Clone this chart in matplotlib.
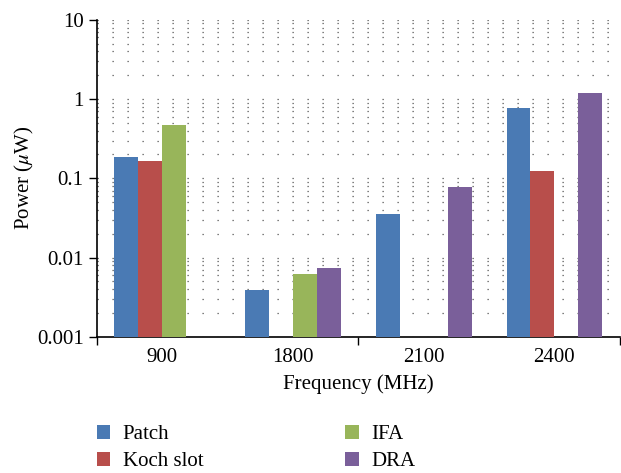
import numpy as np
import matplotlib as mpl
mpl.use('Agg')
import matplotlib.pyplot as plt
from matplotlib.ticker import FixedLocator, NullFormatter, FuncFormatter

frequencies = ["900", "1800", "2100", "2400"]
patch = [0.186, 0.0039, 0.035, 0.78]
koch_slot = [0.164, np.nan, np.nan, 0.122]
ifa = [0.465, 0.0062, np.nan, np.nan]
dra = [np.nan, 0.0074, 0.077, 1.2]

series = [("Patch", patch, "#4a7ab4"),
          ("Koch slot", koch_slot, "#b84e4b"),
          ("IFA", ifa, "#98b55a"),
          ("DRA", dra, "#7a5f9a")]

plt.rcParams['font.family'] = ['Liberation Serif', 'DejaVu Serif']
plt.rcParams['mathtext.fontset'] = 'stix'

fig = plt.figure(figsize=(6.21, 4.73), dpi=100)
ax = fig.add_axes([0.156, 0.288, 0.842, 0.670])

x = np.arange(len(frequencies))
w = 0.183
for i, (name, vals, col) in enumerate(series):
    ax.bar(x + (i - 1.5) * w, vals, w, color=col, label=name, zorder=3)

ax.set_yscale('log')
ax.set_ylim(0.001, 10)
ax.set_xlim(-0.5, 3.5)

# dotted grid at every decade step
ax.yaxis.set_minor_locator(FixedLocator([m * 10.0 ** e for e in range(-3, 1) for m in range(2, 10)]))
ax.yaxis.set_minor_formatter(NullFormatter())
ax.yaxis.set_major_formatter(FuncFormatter(lambda v, p: '%g' % v))
ax.grid(True, axis='y', which='both', linestyle=(0, (1, 11)), color='#555555', linewidth=0.9, zorder=0)
ax.tick_params(axis='y', which='minor', length=0)
ax.tick_params(axis='y', which='major', length=6, width=1, labelsize=15, direction='out')

ax.set_xticks(x)
ax.set_xticklabels(frequencies)
ax.set_xticks([-0.5, 1.5, 3.5], minor=True)
ax.tick_params(axis='x', which='major', length=0, labelsize=15, pad=8)
ax.tick_params(axis='x', which='minor', length=6, width=1)

for s in ['top', 'right']:
    ax.spines[s].set_visible(False)
for s in ['left', 'bottom']:
    ax.spines[s].set_linewidth(1.2)

ax.set_xlabel("Frequency (MHz)", fontsize=15, labelpad=5)
ax.set_ylabel("Power ($\\mu$W)", fontsize=15, labelpad=1)

h, l = ax.get_legend_handles_labels()
fig.legend(h, l, ncol=2, loc='upper left', bbox_to_anchor=(0.139, 0.124), frameon=False,
           fontsize=15, handlelength=0.65, handleheight=0.65, handletextpad=0.6,
           columnspacing=6.8, labelspacing=0.38, borderpad=0)

fig.savefig('out.png', dpi=100)
